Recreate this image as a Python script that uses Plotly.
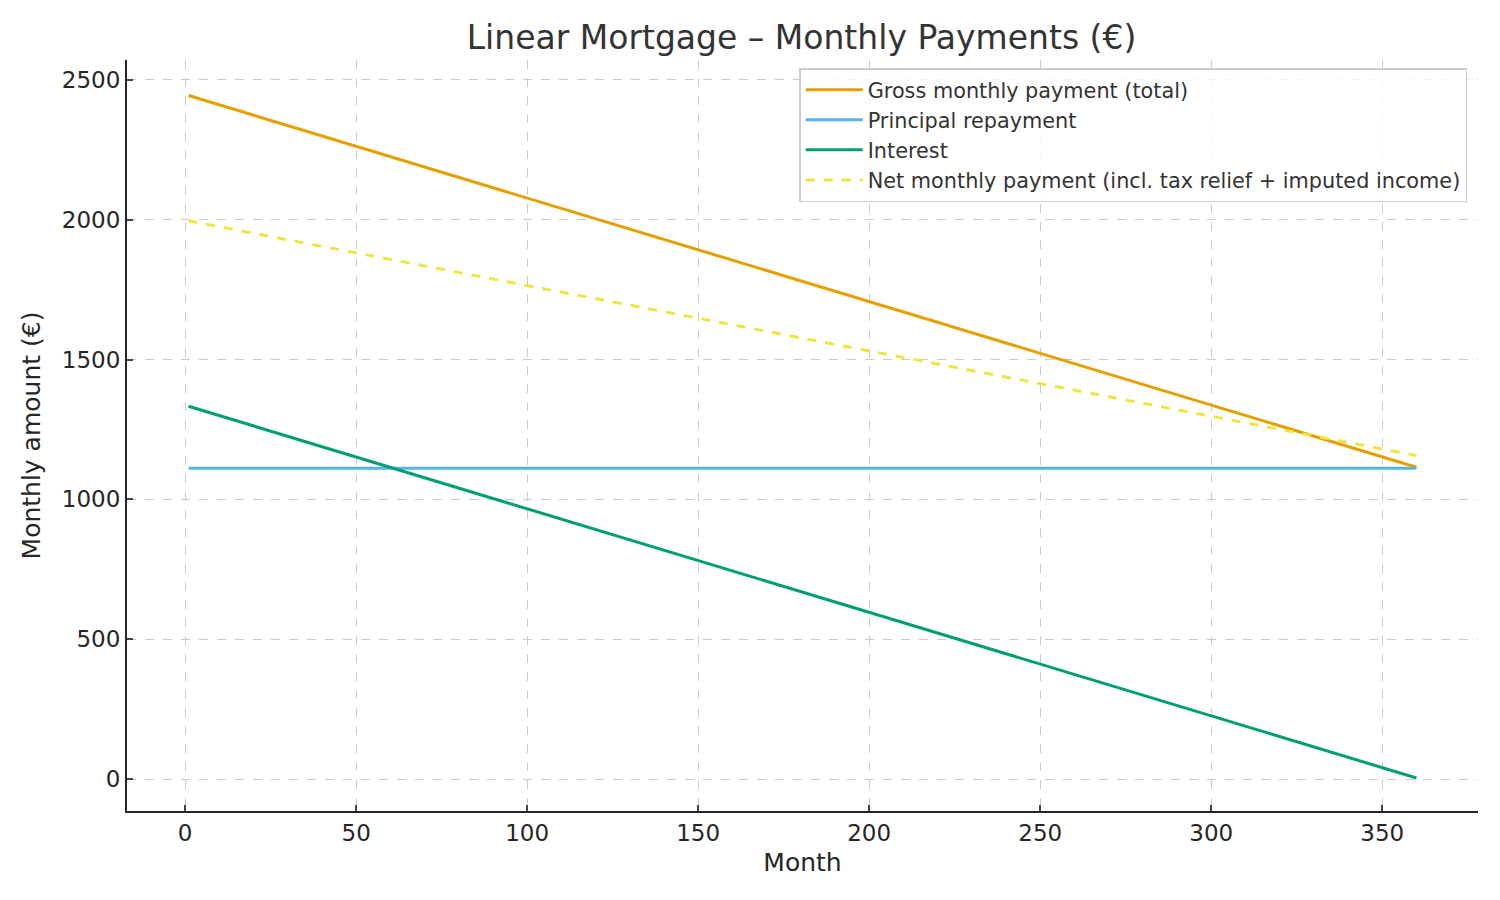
import plotly.graph_objects as go

# values (lines are straight, so start/end months are enough)
months = [1, 360]
gross = [2444, 1115]
principal = [1111, 1111]
interest = [1333, 4]
net = [1996, 1157]

FONT = "DejaVu Sans"
GRID = "#cbcbcb"
AXIS = "#262626"

fig = go.Figure()
fig.add_trace(go.Scatter(x=months, y=gross, mode="lines", name="Gross monthly payment (total)",
                         line=dict(color="#E69F00", width=3)))
fig.add_trace(go.Scatter(x=months, y=principal, mode="lines", name="Principal repayment",
                         line=dict(color="#56B4E9", width=3)))
fig.add_trace(go.Scatter(x=months, y=interest, mode="lines", name="Interest",
                         line=dict(color="#009E73", width=3)))
fig.add_trace(go.Scatter(x=months, y=net, mode="lines",
                         name="Net monthly payment (incl. tax relief + imputed income)",
                         line=dict(color="#F0E442", width=3, dash="dash")))

# the page puts the figure 8px in from the top-left corner, margins allow for that
fig.update_layout(
    width=1500, height=900,
    margin=dict(l=119, r=30, t=52, b=97),
    paper_bgcolor="white", plot_bgcolor="white",
    font=dict(family=FONT, size=23, color=AXIS),
    title=dict(text="Linear Mortgage – Monthly Payments (€)", x=0.529, xanchor="center",
               y=0.967, yanchor="middle", font=dict(size=33, color="#333333")),
    legend=dict(x=0.992, y=0.989, xanchor="right", yanchor="top",
                bgcolor="rgba(255,255,255,0.85)", bordercolor="#cccccc", borderwidth=1.5,
                font=dict(size=20.8, color="#333333"), tracegroupgap=0, itemwidth=57),
    showlegend=True,
)
fig.update_xaxes(
    title=dict(text="Month", font=dict(size=25), standoff=9),
    range=[-17, 378], tickmode="linear", tick0=0, dtick=50,
    showgrid=True, gridcolor=GRID, griddash="dash", gridwidth=1,
    showline=True, linecolor=AXIS, linewidth=2,
    ticks="inside", ticklen=6, tickwidth=1.5, tickcolor="#444444", zeroline=False,
)
fig.update_yaxes(
    title=dict(text="Monthly amount (€)", font=dict(size=25), standoff=14),
    range=[-114, 2571], tickmode="linear", tick0=0, dtick=500,
    showgrid=True, gridcolor=GRID, griddash="dash", gridwidth=1,
    showline=True, linecolor=AXIS, linewidth=2,
    ticks="inside", ticklen=6, tickwidth=1.5, tickcolor="#444444", zeroline=False,
)

fig.write_html("out.html")
